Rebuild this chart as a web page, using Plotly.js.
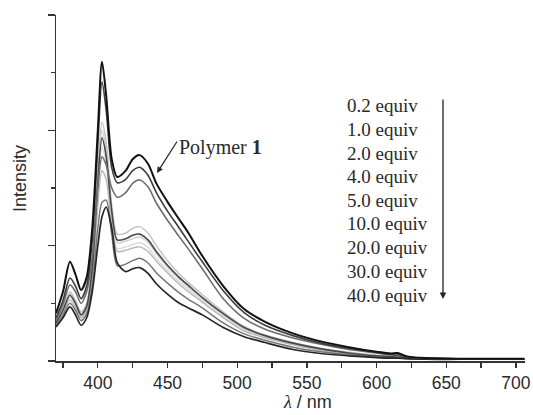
<!DOCTYPE html>
<html>
<head>
<meta charset="utf-8">
<script src="https://cdn.plot.ly/plotly-3.0.1.min.js"></script>
<style>html,body{margin:0;padding:0;background:#fff;}#chart{width:533px;height:415px;}</style>
</head>
<body>
<div id="chart"></div>
<script>
// Wavelength grid (nm)
const wavelength = [370,375,380,384,388,392,396,400,403,406,410,414,420,425,430,436,442,450,458,465,475,490,505,520,540,560,580,600,610,615,622,635,660,706];

// Emission intensities (a.u.)
const polymer1 = [0.83,1.2,1.72,1.5,1.23,1.45,2.3,4.0,5.19,4.6,3.5,3.19,3.3,3.5,3.57,3.42,3.08,2.76,2.47,2.22,1.82,1.3,0.9,0.68,0.48,0.34,0.24,0.16,0.13,0.14,0.08,0.05,0.04,0.04];
const curveB = [0.75,1.05,1.44,1.3,1.08,1.3,2.1,3.75,4.84,4.35,3.35,3.09,3.15,3.3,3.36,3.22,2.92,2.6,2.32,2.07,1.72,1.22,0.84,0.62,0.44,0.31,0.22,0.15,0.12,0.13,0.07,0.05,0.04,0.04];
const curveC = [0.7,0.98,1.32,1.2,1.0,1.2,1.8,3.0,3.54,3.4,3.0,2.84,2.92,3.08,3.14,3.02,2.74,2.44,2.17,1.94,1.6,1.08,0.74,0.55,0.4,0.29,0.2,0.14,0.11,0.12,0.07,0.05,0.04,0.04];
const curveD = [0.68,0.92,1.2,1.05,0.85,1.0,1.7,3.3,4.14,3.8,2.7,2.2,2.22,2.3,2.33,2.22,2.0,1.74,1.52,1.36,1.15,0.85,0.6,0.45,0.32,0.22,0.15,0.1,0.08,0.09,0.05,0.04,0.03,0.03];
const curveE = [0.66,0.88,1.14,1.0,0.8,0.95,1.6,3.1,3.87,3.55,2.6,2.1,2.12,2.18,2.2,2.1,1.9,1.66,1.46,1.31,1.1,0.82,0.58,0.44,0.31,0.21,0.14,0.09,0.08,0.09,0.05,0.04,0.03,0.03];
const curveF = [0.66,0.9,1.17,1.02,0.82,0.97,1.65,3.2,4.0,3.65,2.6,2.05,2.08,2.12,2.15,2.06,1.86,1.63,1.43,1.28,1.08,0.8,0.56,0.42,0.3,0.2,0.13,0.09,0.07,0.08,0.05,0.04,0.03,0.03];
const curveG = [0.64,0.86,1.1,0.97,0.78,0.92,1.55,2.95,3.7,3.4,2.45,1.95,1.98,2.02,2.05,1.97,1.78,1.57,1.38,1.24,1.04,0.77,0.54,0.41,0.29,0.19,0.13,0.09,0.07,0.08,0.05,0.04,0.03,0.03];
const curveH = [0.63,0.84,1.06,0.93,0.75,0.88,1.45,2.7,3.3,3.15,2.35,1.9,1.92,1.96,1.98,1.9,1.73,1.53,1.34,1.2,1.02,0.75,0.52,0.4,0.28,0.18,0.12,0.08,0.07,0.07,0.05,0.04,0.03,0.03];
const curveI = [0.62,0.8,1.0,0.88,0.7,0.82,1.3,2.3,2.75,2.79,2.2,1.65,1.68,1.74,1.78,1.7,1.53,1.35,1.19,1.07,0.92,0.66,0.47,0.36,0.24,0.16,0.11,0.07,0.06,0.06,0.04,0.03,0.03,0.03];
const curveJ = [0.59,0.75,0.94,0.8,0.62,0.75,1.2,2.0,2.5,2.67,2.3,1.7,1.55,1.6,1.62,1.52,1.34,1.16,1.01,0.92,0.8,0.58,0.42,0.32,0.2,0.13,0.09,0.06,0.05,0.05,0.04,0.03,0.03,0.03];

const equivLabels = ["0.2 equiv","1.0 equiv","2.0 equiv","4.0 equiv","5.0 equiv","10.0 equiv","20.0 equiv","30.0 equiv","40.0 equiv"];
const xTickVals = [400,450,500,550,600,650,700];

const series = [
  {y: curveG, color: "#dadada", w: 1.4},
  {y: curveF, color: "#cfcfcf", w: 1.4},
  {y: curveH, color: "#b8b8b8", w: 1.4},
  {y: curveD, color: "#c4c4c4", w: 1.5},
  {y: curveI, color: "#777777", w: 1.5},
  {y: curveE, color: "#484848", w: 1.6},
  {y: curveJ, color: "#262626", w: 1.7},
  {y: curveC, color: "#6e6e6e", w: 1.6},
  {y: curveB, color: "#3c3c3c", w: 1.6},
  {y: polymer1, color: "#111111", w: 2.0}
];

const traces = series.map(s => ({
  x: wavelength, y: s.y, type: "scatter", mode: "lines",
  line: {color: s.color, width: s.w, shape: "spline", smoothing: 0.8},
  hoverinfo: "skip", showlegend: false
}));

const W = 533, H = 415, ML = 56, MR = 8, MT = 15, MB = 54;
const PW = W - ML - MR, PH = H - MT - MB;
const px = x => (x - ML) / PW;
const py = y => (H - MB - y) / PH;

const annotations = [];
const rowY = [106, 129.5, 153, 176.5, 200, 223.5, 247.5, 271.5, 295];
equivLabels.forEach((t, i) => {
  annotations.push({xref: "paper", yref: "paper", x: px(345), y: py(rowY[i]), xanchor: "left", yanchor: "middle",
    text: t, showarrow: false, font: {family: "Liberation Serif", size: 19, color: "#2a2a2a"}});
});
// vertical arrow
annotations.push({xref: "paper", yref: "paper", x: px(443), y: py(299), text: "", showarrow: true,
  ax: 0, ay: -201, arrowhead: 2, arrowsize: 1, arrowwidth: 1.3, arrowcolor: "#222"});
// Polymer 1 label + arrow
annotations.push({xref: "paper", yref: "paper", x: px(177), y: py(147), xanchor: "left", yanchor: "middle",
  text: "Polymer <b>1</b>", showarrow: false, font: {family: "Liberation Serif", size: 20, color: "#2a2a2a"}});
annotations.push({xref: "paper", yref: "paper", x: px(157), y: py(173), text: "", showarrow: true,
  ax: 21, ay: -33, arrowhead: 2, arrowsize: 1, arrowwidth: 1.2, arrowcolor: "#222"});
// axis titles
annotations.push({xref: "paper", yref: "paper", x: px(20), y: py(179), xanchor: "center", yanchor: "middle", textangle: -90,
  text: "Intensity", showarrow: false, font: {family: "Liberation Sans", size: 18, color: "#2a2a2a"}});
annotations.push({xref: "paper", yref: "paper", x: px(307), y: py(414), xanchor: "center", yanchor: "bottom",
  text: "<i style='font-family:Liberation Serif'>λ</i> / nm", showarrow: false, font: {family: "Liberation Sans", size: 18, color: "#2a2a2a"}});

const layout = {
  width: W, height: H,
  margin: {l: ML, r: MR, t: MT, b: MB},
  paper_bgcolor: "#fff", plot_bgcolor: "#fff",
  showlegend: false,
  xaxis: {
    range: [370, 706.5], tickvals: xTickVals, ticktext: xTickVals.map(String),
    showgrid: false, zeroline: false, showline: true, linecolor: "#333", linewidth: 1.5,
    ticks: "outside", ticklen: 5, tickwidth: 1.3, tickcolor: "#333",
    minor: {tickvals: [375,425,475,525,575,625,675], ticks: "outside", ticklen: 5, tickwidth: 1.3, tickcolor: "#333", showgrid: false},
    tickfont: {family: "Liberation Sans", size: 17.5, color: "#2a2a2a"}
  },
  yaxis: {
    range: [0, 6], tickvals: [0,2,4,6], showticklabels: false,
    showgrid: false, zeroline: false, showline: true, linecolor: "#333", linewidth: 1.5,
    ticks: "outside", ticklen: 7, tickwidth: 1.3, tickcolor: "#333",
    minor: {tickvals: [1,3,5], ticks: "outside", ticklen: 4, tickwidth: 1.3, tickcolor: "#333", showgrid: false}
  },
  annotations: annotations
};

Plotly.newPlot("chart", traces, layout, {staticPlot: true, displayModeBar: false});
</script>
</body>
</html>
